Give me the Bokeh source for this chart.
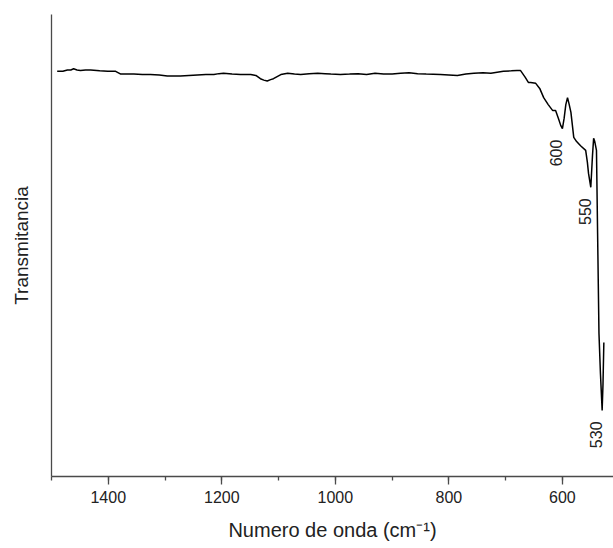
import numpy as np
from bokeh.plotting import figure
from bokeh.models import Range1d, SingleIntervalTicker, FixedTicker
from bokeh.embed import file_html
from bokeh.resources import INLINE
from bokeh.core.properties import value

# FTIR spectrum: wavenumber (cm^-1) and transmittance (arbitrary units)
wavenumber = [
    1490, 1480, 1472, 1466, 1461, 1455, 1449, 1440, 1431, 1415, 1401, 1387,
    1378, 1365, 1355, 1340, 1326, 1310, 1296, 1285, 1273, 1258, 1243, 1228,
    1214, 1205, 1197, 1182, 1167, 1149, 1140, 1132, 1126, 1120, 1114, 1109,
    1096, 1084, 1072, 1061, 1046, 1031, 1018, 1008, 991, 975, 960, 945, 930,
    915, 900, 885, 870, 855, 840, 815, 785, 770, 756, 740, 726, 715, 704, 690,
    680, 674, 666, 660, 656, 647, 640, 633, 625, 617, 612, 607, 603, 600, 597,
    594, 591, 588, 585, 580, 575, 568, 559, 556, 554, 550, 547, 545, 543, 540,
    538, 535.6, 533, 530, 528.5, 527,
]
transmittance = [
    87.7, 87.7, 88.0, 88.0, 88.25, 88.0, 87.9, 88.0, 88.0, 87.8, 87.7, 87.7,
    87.1, 87.1, 87.1, 87.0, 87.0, 86.9, 86.7, 86.7, 86.7, 86.8, 86.9, 87.0,
    87.0, 87.2, 87.3, 87.1, 87.0, 87.0, 86.8, 86.1, 85.8, 85.6, 85.9, 86.1,
    87.0, 87.3, 87.1, 87.0, 87.2, 87.3, 87.2, 87.1, 87.0, 87.1, 87.2, 87.0,
    87.3, 87.1, 87.1, 87.3, 87.4, 87.2, 87.1, 87.0, 86.8, 87.1, 87.3, 87.4,
    87.3, 87.5, 87.7, 87.8, 87.9, 87.9, 86.5, 85.3, 85.3, 85.1, 84.0, 82.0,
    80.5, 79.2, 79.2, 77.5, 76.0, 75.3, 77.5, 80.5, 82.0, 80.5, 78.8, 73.4,
    72.5, 71.6, 70.6, 68.0, 65.6, 62.6, 69.5, 73.2, 72.5, 70.6, 52.6, 31.0,
    22.3, 14.3, 20.0, 29.0,
]

# Band assignments marked on the spectrum
peak_labels = ["600", "550", "530"]
peak_wavenumber = [600, 550, 530]
peak_transmittance = [75.3, 62.6, 14.3]

FONT = "Liberation Sans"
INK = "#222222"
AXIS = "#4a4a4a"

p = figure(
    width=613, height=548,
    x_range=Range1d(1500, 510), y_range=Range1d(0, 100),
    output_backend="svg", toolbar_location=None,
    min_border_left=51, min_border_right=0,
    min_border_top=14, min_border_bottom=72,
)
p.outline_line_color = None
p.xgrid.visible = False
p.ygrid.visible = False
p.background_fill_color = "white"
p.border_fill_color = "white"

p.line(wavenumber, transmittance, line_color="black", line_width=1.5)

p.text(
    x=peak_wavenumber, y=peak_transmittance, text=peak_labels,
    angle=np.pi / 2, text_align="right", text_baseline="middle",
    x_offset=-6, y_offset=11,
    text_font=value(FONT), text_font_size="16px", text_color=INK,
)

xa = p.xaxis[0]
xa.ticker = SingleIntervalTicker(interval=200, num_minor_ticks=2)
xa.axis_line_color = AXIS
xa.axis_line_width = 1.3
xa.major_tick_line_color = AXIS
xa.major_tick_line_width = 1.3
xa.major_tick_in = 0
xa.major_tick_out = 8
xa.minor_tick_line_color = AXIS
xa.minor_tick_line_width = 1.3
xa.minor_tick_in = 0
xa.minor_tick_out = 4
xa.major_label_text_font = FONT
xa.major_label_text_font_size = "16px"
xa.major_label_text_color = INK
xa.major_label_standoff = 6
xa.axis_label = "Numero de onda (cm\u207b\u00b9)"
xa.axis_label_text_font = FONT
xa.axis_label_text_font_size = "20px"
xa.axis_label_text_font_style = "normal"
xa.axis_label_text_color = INK
xa.axis_label_standoff = 13

ya = p.yaxis[0]
ya.ticker = FixedTicker(ticks=[])
ya.axis_line_color = AXIS
ya.axis_line_width = 1.3
ya.major_tick_line_color = None
ya.minor_tick_line_color = None
ya.major_label_text_font_size = "0px"
ya.axis_label = "Transmitancia"
ya.axis_label_text_font = FONT
ya.axis_label_text_font_size = "19px"
ya.axis_label_text_font_style = "normal"
ya.axis_label_text_color = INK
ya.axis_label_standoff = 20

open("out.html", "w").write(file_html(p, INLINE))
